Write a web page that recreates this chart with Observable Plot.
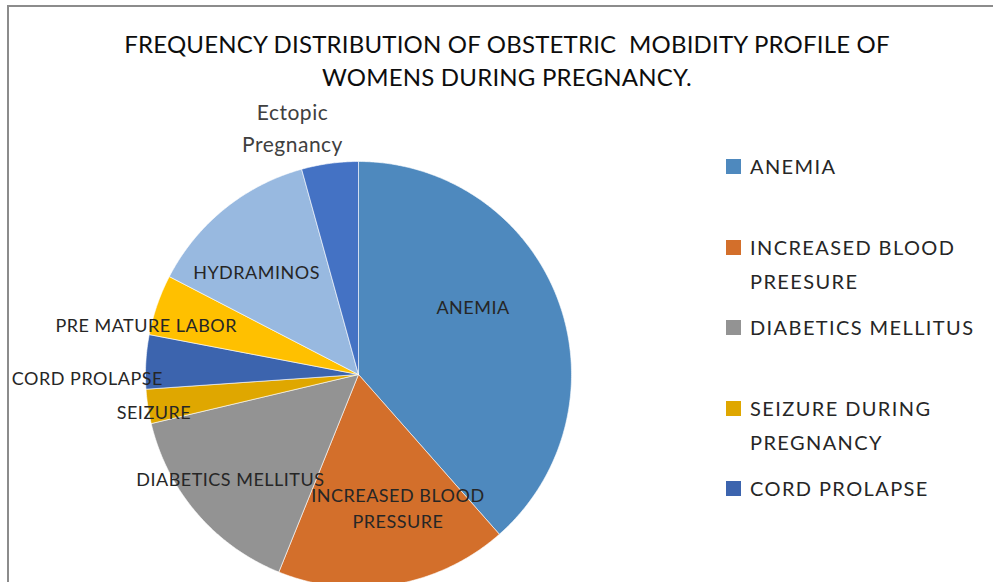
<!DOCTYPE html>
<html>
<head>
<meta charset="utf-8">
<script src="https://cdn.jsdelivr.net/npm/d3@7"></script>
<script src="https://cdn.jsdelivr.net/npm/@observablehq/plot@0.6"></script>
<style>
  html, body { margin: 0; padding: 0; background: #fff; overflow: hidden; }
  #wrap { position: relative; width: 993px; height: 582px; overflow: hidden; font-family: Lato, "Open Sans", sans-serif; }
  #frame { position: absolute; left: 7px; top: 5px; width: 1100px; height: 700px; border: 2px solid #8c8c8c; box-sizing: border-box; }
  #title { position: absolute; left: 0; top: 27px; width: 1014px; text-align: center; font-size: 24px; line-height: 33px; color: #0d0d0d; white-space: pre; letter-spacing: 0.2px; }
  #chart { position: absolute; left: 0; top: 0; }
  #chart svg text { letter-spacing: 0.5px; }
  .item { position: absolute; left: 726px; display: flex; align-items: flex-start; }
  .sw { width: 15px; height: 15px; margin-top: 10px; margin-right: 9px; flex: none; }
  .lt { font-size: 20px; line-height: 34px; color: #262626; white-space: pre; letter-spacing: 1.4px; }
</style>
</head>
<body>
<div id="wrap">
  <div id="frame"></div>
  <div id="chart"></div>
  <div id="title"></div>
  <div id="legend"></div>
</div>
<script>
// ---- data ----
const categories = ["ANEMIA", "INCREASED BLOOD PRESSURE", "DIABETICS MELLITUS", "SEIZURE", "CORD PROLAPSE", "PRE MATURE LABOR", "HYDRAMINOS", "Ectopic Pregnancy"];
const values = [38.5, 17.6, 15.2, 2.6, 4.1, 4.6, 13.1, 4.3];
const sliceLabels = ["ANEMIA", "INCREASED BLOOD\nPRESSURE", "DIABETICS MELLITUS", "SEIZURE", "CORD PROLAPSE", "PRE MATURE LABOR", "HYDRAMINOS", "Ectopic\nPregnancy"];
const colors = ["#4e89be", "#d36f2b", "#939393", "#dfa700", "#3c64ae", "#ffc000", "#98b9e0", "#4472c4"];
const legendLabels = ["ANEMIA", "INCREASED BLOOD\nPREESURE", "DIABETICS MELLITUS", "SEIZURE DURING\nPREGNANCY", "CORD PROLAPSE"];
const titleText = "FREQUENCY DISTRIBUTION OF OBSTETRIC  MOBIDITY PROFILE OF\nWOMENS DURING PREGNANCY.";

// ---- layout (label placement relative to each slice's mid-angle) ----
const labelLayout = [
  {r: 0.60, dx: -5, dy: -24, size: 18},
  {r: 0.65, dx: 16, dy: -4, size: 18},
  {r: 0.75, dx: -7, dy: -1, size: 18},
  {r: 1.00, dx: 6, dy: 4, size: 18},
  {r: 1.28, dx: 1, dy: 18, size: 18},
  {r: 1.00, dx: -11, dy: 19, size: 18},
  {r: 0.70, dx: -8, dy: 12, size: 18},
  {r: 1.15, dx: -33, dy: -6, size: 21}
];

const total = d3.sum(values);
let acc = 0;
const slices = categories.map((name, i) => {
  const a0 = acc / total * 2 * Math.PI;
  acc += values[i];
  const a1 = acc / total * 2 * Math.PI;
  return {name, a0, a1, mid: (a0 + a1) / 2, i};
});

const pts = slices.flatMap(s => {
  const n = Math.max(2, Math.ceil((s.a1 - s.a0) / (Math.PI / 360)));
  const arr = [{name: s.name, x: 0, y: 0}];
  for (let k = 0; k <= n; k++) {
    const a = s.a0 + (s.a1 - s.a0) * k / n;
    arr.push({name: s.name, x: Math.sin(a), y: Math.cos(a)});
  }
  arr.push({name: s.name, x: 0, y: 0});
  return arr;
});

const labels = slices.map(s => {
  const L = labelLayout[s.i];
  return {text: sliceLabels[s.i], x: L.r * Math.sin(s.mid), y: L.r * Math.cos(s.mid), dx: L.dx, dy: L.dy, size: L.size, ect: s.i === 7};
});

const cx = 358, cy = 374, R = 213;
const chart = Plot.plot({
  width: 993,
  height: 582,
  margin: 0,
  style: {fontFamily: "Lato, 'Open Sans', sans-serif", background: "transparent", overflow: "hidden"},
  x: {domain: [-1, 1], range: [cx - R, cx + R], axis: null},
  y: {domain: [-1, 1], range: [cy + R, cy - R], axis: null},
  color: {domain: categories, range: colors},
  marks: [
    Plot.line(pts, {x: "x", y: "y", z: "name", fill: "name", stroke: "#ffffff", strokeWidth: 0.6, strokeLinejoin: "round"}),
    ...labels.map(l => Plot.text([l], {x: "x", y: "y", text: "text", dx: l.dx, dy: l.dy, fontSize: l.size, lineHeight: l.ect ? 1.5 : 1.45, fill: l.ect ? "#404040" : "#262626"}))
  ]
});
document.getElementById("chart").appendChild(chart);

document.getElementById("title").textContent = titleText;

const legend = document.getElementById("legend");
legendLabels.forEach((lab, i) => {
  const item = document.createElement("div");
  item.className = "item";
  item.style.top = (149 + i * 80.5) + "px";
  const sw = document.createElement("div");
  sw.className = "sw";
  sw.style.background = colors[i];
  const t = document.createElement("div");
  t.className = "lt";
  t.textContent = lab;
  item.appendChild(sw);
  item.appendChild(t);
  legend.appendChild(item);
});
</script>
</body>
</html>
